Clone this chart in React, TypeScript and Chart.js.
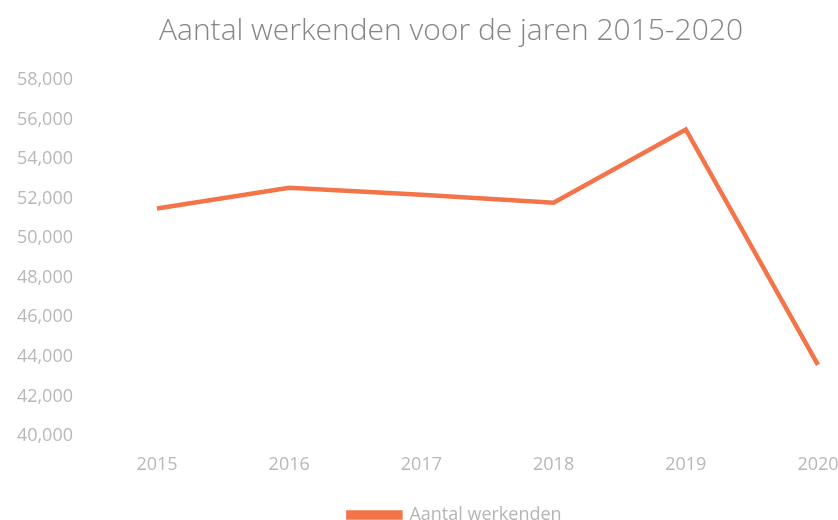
import React, { useEffect, useRef } from "react";
import { Chart, registerables } from "chart.js";

Chart.register(...registerables);

const years = ["2015", "2016", "2017", "2018", "2019", "2020"];
const werkenden = [51500, 52550, 52200, 51800, 55500, 43600];
const seriesLabel = "Aantal werkenden";
const titleText = "Aantal werkenden voor de jaren 2015-2020";

const shiftBoxes = {
  id: "shiftBoxes",
  afterLayout(chart: any) {
    if (chart.titleBlock) chart.titleBlock.left += 84;
    if (chart.legend) chart.legend.left += 92;
  },
};

export default function App() {
  const ref = useRef<HTMLCanvasElement | null>(null);
  useEffect(() => {
    if (!ref.current) return;
    const font = "'Open Sans', 'DejaVu Sans', sans-serif";
    const chart = new Chart(ref.current, {
      type: "line",
      data: {
        labels: years,
        datasets: [
          {
            label: seriesLabel,
            data: werkenden,
            borderColor: "#f4744a",
            backgroundColor: "#f4744a",
            borderWidth: 4.5,
            pointRadius: 0,
            tension: 0,
          },
        ],
      },
      plugins: [shiftBoxes],
      options: {
        animation: false,
        responsive: false,
        maintainAspectRatio: false,
        layout: { autoPadding: false, padding: { top: 0, left: 0, right: 20, bottom: -14 } },
        plugins: {
          title: {
            display: true,
            text: titleText,
            color: "#858585",
            font: { family: font, size: 30, weight: "300" as any },
            padding: { top: 13, bottom: 31 },
          },
          legend: {
            position: "bottom",
            labels: {
              color: "#b5b5b5",
              font: { family: font, size: 18 },
              boxWidth: 52,
              boxHeight: 5,
              padding: 0,
            },
          },
          tooltip: { enabled: false },
        },
        scales: {
          x: {
            offset: false,
            grid: { display: false, drawTicks: false },
            border: { display: false },
            ticks: { color: "#b8b8b8", font: { family: font, size: 18 }, padding: 18, maxRotation: 0 },
            afterFit: (s: any) => {
              s.height = 70;
              s.paddingLeft = 0;
              s.paddingRight = 0;
            },
          },
          y: {
            min: 40000,
            max: 58000,
            grid: { display: false, drawTicks: false },
            border: { display: false },
            ticks: {
              stepSize: 2000,
              color: "#b8b8b8",
              font: { family: font, size: 18 },
              padding: 84,
              callback: (v: any) => Number(v).toLocaleString("en-US"),
            },
            afterFit: (s: any) => {
              s.width = 157;
              s.paddingTop = 0;
              s.paddingBottom = 0;
            },
          },
        },
      },
    });
    return () => chart.destroy();
  }, []);
  return (
    <div style={{ position: "absolute", left: 0, top: 0, width: 838, height: 520, background: "#fff" }}>
      <canvas ref={ref} width={838} height={520} style={{ display: "block", width: 838, height: 520 }} />
    </div>
  );
}
